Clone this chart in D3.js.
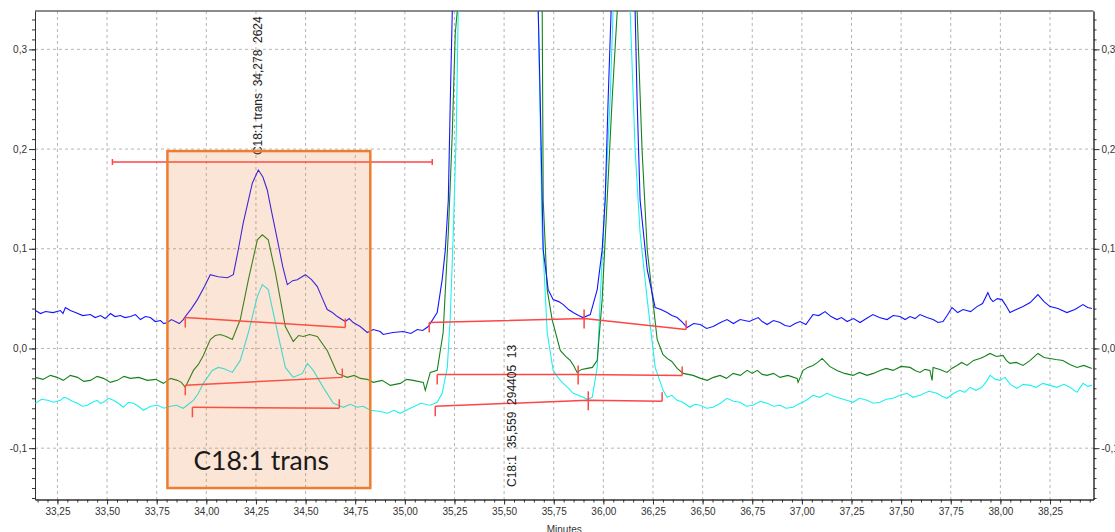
<!DOCTYPE html>
<html>
<head>
<meta charset="utf-8">
<script src="https://cdn.jsdelivr.net/npm/d3@7"></script>
<style>
  body { margin: 0; background: #fff; }
  text { font-family: "Liberation Sans", Arial, sans-serif; }
</style>
</head>
<body>
<div id="chart"></div>
<script>

// --> DATA (minutes, absorbance)

var blueTrace = [
  [33.139,0.038],[33.165,0.035],[33.190,0.037],[33.228,0.036],[33.265,0.038],[33.278,0.035],
  [33.290,0.041],[33.315,0.038],[33.341,0.036],[33.378,0.033],[33.416,0.034],[33.44,0.031],
  [33.467,0.033],[33.49,0.030],[33.517,0.035],[33.54,0.032],[33.567,0.033],[33.59,0.031],
  [33.618,0.032],[33.643,0.034],[33.668,0.029],[33.693,0.032],[33.718,0.031],[33.743,0.027],
  [33.769,0.028],[33.786,0.025],[33.804,0.026],[33.824,0.029],[33.844,0.027],[33.864,0.025],
  [33.884,0.029],[33.894,0.032],[33.925,0.040],[33.955,0.049],[33.99,0.062],
  [34.020,0.074],[34.06,0.072],[34.106,0.071],[34.136,0.074],[34.16,0.098],[34.186,0.126],[34.232,0.166],[34.262,0.179],
  [34.285,0.172],[34.307,0.159],[34.33,0.136],[34.358,0.109],[34.385,0.082],[34.408,0.064],[34.435,0.068],[34.458,0.069],[34.499,0.074],[34.53,0.069],[34.559,0.062],
  [34.585,0.050],[34.609,0.039],[34.635,0.036],[34.660,0.032],[34.700,0.027],[34.720,0.030],[34.740,0.026],[34.775,0.022],[34.811,0.016],[34.84,0.019],[34.876,0.017],
  [34.891,0.014],[34.94,0.016],[34.992,0.017],[35.03,0.015],[35.063,0.019],[35.09,0.018],[35.118,0.022],[35.163,0.036],[35.188,0.069],
  [35.204,0.099],[35.219,0.149],[35.229,0.249],[35.239,0.3385],[35.45,1.5],[35.672,0.3385],
  [35.682,0.249],[35.697,0.099],[35.722,0.059],[35.747,0.049],[35.775,0.047],[35.798,0.044],[35.825,0.039],[35.848,0.036],
  [35.875,0.033],[35.898,0.031],[35.934,0.034],[35.969,0.059],[35.994,0.099],[36.009,0.149],[36.024,0.249],
  [36.039,0.3385],[36.10,1.2],[36.160,0.3385],[36.170,0.249],[36.185,0.149],[36.221,0.079],
  [36.261,0.041],[36.29,0.039],[36.321,0.036],[36.345,0.033],[36.372,0.031],[36.40,0.026],[36.422,0.021],
  [36.455,0.025],[36.488,0.024],[36.52,0.020],[36.553,0.022],[36.59,0.026],[36.623,0.029],[36.655,0.025],
  [36.689,0.029],[36.735,0.027],[36.780,0.031],[36.80,0.027],[36.825,0.024],[36.857,0.028],[36.890,0.026],
  [36.915,0.023],[36.941,0.022],[36.966,0.025],[36.991,0.027],[37.02,0.024],[37.056,0.034],[37.085,0.033],
  [37.117,0.037],[37.147,0.032],[37.177,0.029],[37.20,0.031],[37.228,0.027],[37.26,0.030],[37.293,0.026],
  [37.325,0.030],[37.358,0.034],[37.39,0.031],[37.429,0.029],[37.46,0.033],[37.494,0.032],[37.52,0.029],
  [37.545,0.032],[37.57,0.030],[37.595,0.034],[37.63,0.031],[37.661,0.029],[37.686,0.026],[37.711,0.027],
  [37.735,0.034],[37.756,0.041],[37.785,0.036],[37.812,0.039],[37.85,0.037],[37.882,0.042],[37.91,0.045],
  [37.937,0.056],[37.95,0.050],[37.963,0.047],[37.985,0.050],[38.008,0.049],[38.028,0.043],[38.048,0.036],
  [38.08,0.039],[38.114,0.042],[38.15,0.046],[38.189,0.054],[38.22,0.047],[38.250,0.042],[38.29,0.040],
  [38.335,0.036],[38.375,0.039],[38.416,0.044],[38.44,0.041],[38.461,0.040]
];

var greenTrace = [
  [33.139,-0.029],[33.177,-0.031],[33.215,-0.027],[33.248,-0.029],[33.280,-0.032],[33.315,-0.027],
  [33.351,-0.029],[33.383,-0.033],[33.416,-0.032],[33.45,-0.028],[33.482,-0.030],[33.517,-0.034],
  [33.552,-0.032],[33.585,-0.028],[33.618,-0.030],[33.66,-0.029],[33.703,-0.032],[33.745,-0.031],
  [33.784,-0.035],[33.82,-0.030],[33.854,-0.032],[33.874,-0.034],[33.894,-0.039],
  [33.935,-0.022],[33.96,-0.016],[33.985,-0.007],[34.020,0.009],[34.045,0.013],[34.071,0.014],[34.10,0.012],[34.131,0.009],[34.171,0.029],
  [34.212,0.069],[34.257,0.109],[34.282,0.114],[34.312,0.109],[34.348,0.076],[34.398,0.022],
  [34.438,0.007],[34.465,0.013],[34.489,0.012],[34.52,0.014],[34.559,0.012],[34.609,-0.002],[34.660,-0.025],[34.710,-0.029],
  [34.745,-0.027],[34.776,-0.030],[34.81,-0.031],[34.841,-0.034],[34.885,-0.032],[34.927,-0.037],[34.977,-0.035],[35.01,-0.031],[35.042,-0.032],[35.093,-0.034],
  [35.103,-0.042],[35.128,-0.024],[35.163,-0.022],[35.193,0.016],[35.219,0.116],[35.239,0.216],
  [35.254,0.316],[35.264,0.3385],[35.47,1.5],[35.692,0.3385],[35.697,0.149],[35.717,0.059],
  [35.742,0.029],[35.783,-0.002],[35.81,-0.008],[35.833,-0.012],[35.85,-0.017],[35.868,-0.024],[35.89,-0.021],[35.919,-0.020],[35.945,-0.019],[35.969,-0.012],
  [35.994,0.049],[36.019,0.149],[36.044,0.249],[36.070,0.3385],[36.11,1.2],[36.170,0.3385],
  [36.195,0.199],[36.221,0.099],[36.271,0.009],[36.3,-0.006],[36.321,-0.010],[36.345,-0.013],[36.372,-0.020],[36.402,-0.025],
  [36.452,-0.027],[36.49,-0.030],[36.523,-0.032],[36.555,-0.029],[36.588,-0.027],[36.62,-0.030],[36.654,-0.025],
  [36.69,-0.027],[36.724,-0.022],[36.75,-0.025],[36.775,-0.022],[36.80,-0.026],[36.825,-0.027],[36.857,-0.025],
  [36.890,-0.029],[36.93,-0.027],[36.976,-0.030],[36.981,-0.034],[37.006,-0.022],[37.03,-0.019],[37.056,-0.017],
  [37.08,-0.014],[37.102,-0.010],[37.14,-0.018],[37.177,-0.022],[37.215,-0.025],[37.258,-0.027],[37.29,-0.024],
  [37.328,-0.027],[37.36,-0.025],[37.394,-0.022],[37.425,-0.020],[37.459,-0.022],[37.50,-0.018],[37.545,-0.019],
  [37.57,-0.022],[37.595,-0.024],[37.62,-0.021],[37.645,-0.022],[37.656,-0.032],[37.661,-0.019],[37.695,-0.021],
  [37.731,-0.024],[37.755,-0.020],[37.781,-0.017],[37.805,-0.014],[37.832,-0.017],[37.865,-0.012],[37.897,-0.010],
  [37.92,-0.008],[37.948,-0.005],[37.98,-0.008],[38.013,-0.007],[38.03,-0.012],[38.048,-0.015],[38.08,-0.014],
  [38.114,-0.017],[38.15,-0.012],[38.189,-0.005],[38.22,-0.009],[38.250,-0.010],[38.28,-0.011],[38.315,-0.012],
  [38.35,-0.016],[38.386,-0.019],[38.42,-0.017],[38.461,-0.020]
];

var cyanTrace = [
  [33.139,-0.055],[33.17,-0.051],[33.200,-0.052],[33.232,-0.054],[33.265,-0.052],[33.282,-0.049],
  [33.300,-0.050],[33.325,-0.053],[33.351,-0.055],[33.376,-0.058],[33.401,-0.057],[33.426,-0.054],
  [33.451,-0.052],[33.466,-0.055],[33.482,-0.054],[33.507,-0.050],[33.532,-0.052],[33.557,-0.055],
  [33.582,-0.059],[33.607,-0.054],[33.633,-0.055],[33.658,-0.058],[33.683,-0.062],[33.72,-0.058],
  [33.754,-0.057],[33.787,-0.060],[33.819,-0.058],[33.85,-0.057],[33.884,-0.060],[33.91,-0.056],
  [33.935,-0.052],[33.96,-0.045],[33.985,-0.035],[34.030,-0.022],[34.06,-0.019],
  [34.086,-0.020],[34.131,-0.024],[34.171,-0.012],[34.212,0.016],[34.257,0.052],[34.282,0.064],
  [34.312,0.059],[34.348,0.026],[34.398,-0.019],[34.438,-0.029],[34.484,-0.025],[34.509,-0.015],
  [34.539,-0.022],[34.589,-0.039],[34.640,-0.055],[34.665,-0.057],[34.690,-0.059],[34.725,-0.056],[34.760,-0.059],[34.79,-0.058],[34.826,-0.062],
  [34.87,-0.063],[34.912,-0.065],[34.945,-0.062],[34.977,-0.065],[35.027,-0.060],[35.05,-0.058],[35.078,-0.055],[35.128,-0.057],[35.163,-0.054],
  [35.188,-0.045],[35.214,-0.019],[35.229,0.032],[35.244,0.116],[35.259,0.216],[35.269,0.3385],
  [35.46,1.5],[35.672,0.3385],[35.692,0.116],[35.717,0.016],[35.747,-0.022],[35.775,-0.030],[35.798,-0.035],
  [35.825,-0.040],[35.848,-0.045],[35.875,-0.047],[35.898,-0.049],[35.92,-0.051],[35.944,-0.049],[35.969,-0.019],[35.984,0.049],[36.009,0.149],
  [36.034,0.249],[36.049,0.3385],[36.09,1.0],[36.135,0.3385],[36.160,0.199],[36.185,0.116],
  [36.221,0.049],[36.261,-0.019],[36.301,-0.042],[36.321,-0.049],[36.345,-0.047],[36.372,-0.052],[36.40,-0.054],
  [36.437,-0.059],[36.46,-0.056],[36.488,-0.057],[36.52,-0.060],[36.553,-0.059],[36.59,-0.055],[36.623,-0.050],
  [36.655,-0.053],[36.689,-0.054],[36.72,-0.058],[36.754,-0.057],[36.79,-0.053],[36.825,-0.055],[36.857,-0.058],
  [36.890,-0.057],[36.92,-0.060],[36.956,-0.059],[36.98,-0.056],[37.006,-0.054],[37.03,-0.051],[37.056,-0.047],
  [37.09,-0.049],[37.127,-0.045],[37.16,-0.048],[37.192,-0.050],[37.225,-0.052],[37.258,-0.054],[37.29,-0.050],
  [37.328,-0.052],[37.36,-0.055],[37.394,-0.054],[37.425,-0.051],[37.459,-0.050],[37.495,-0.047],[37.530,-0.045],
  [37.56,-0.049],[37.595,-0.047],[37.64,-0.043],[37.681,-0.045],[37.705,-0.048],[37.731,-0.050],[37.765,-0.045],
  [37.796,-0.042],[37.82,-0.044],[37.847,-0.039],[37.877,-0.042],[37.907,-0.039],[37.93,-0.033],[37.948,-0.027],
  [37.975,-0.031],[37.998,-0.032],[38.023,-0.029],[38.05,-0.036],[38.083,-0.040],[38.115,-0.036],[38.149,-0.037],
  [38.18,-0.039],[38.214,-0.035],[38.25,-0.037],[38.285,-0.039],[38.32,-0.036],[38.350,-0.039],[38.386,-0.044],
  [38.416,-0.035],[38.44,-0.038],[38.461,-0.037]
];

// integration baselines: start, (valley), end
var baselines = [
  [[33.894,0.031],[34.700,0.021]],
  [[33.894,-0.037],[34.685,-0.029]],
  [[33.930,-0.059],[34.670,-0.060]],
  [[35.123,0.026],[35.903,0.030],[36.417,0.019]],
  [[35.163,-0.026],[35.873,-0.026],[36.397,-0.027]],
  [[35.153,-0.058],[35.924,-0.052],[36.296,-0.053]]
];

// red window bar
var windowBar = [33.527, 35.138, 0.187];

// highlight box: t0, t1, top, bottom
var boxRange = [33.804, 34.826, 0.198, -0.140];

var peakLabels = [
  { rt: 34.278, text: "C18:1 trans  34,278  2624", top: true },
  { rt: 35.559, text: "C18:1  35,559  294405  13", top: false }
];

var xTicks = [33.25, 33.50, 33.75, 34.00, 34.25, 34.50, 34.75, 35.00, 35.25, 35.50, 35.75,
              36.00, 36.25, 36.50, 36.75, 37.00, 37.25, 37.50, 37.75, 38.00, 38.25];
var yTicks = [-0.1, 0.0, 0.1, 0.2, 0.3];

var xDomain = [33.137, 38.469];
var yDomain = [-0.1515, 0.3385];

// --> CREATE SVG DRAWING AREA

var width = 1115,
    height = 532;

var margin = { left: 35, right: 21.5, top: 11, bottom: 32.5 };

var plotW = width - margin.left - margin.right,
    plotH = height - margin.top - margin.bottom;

var loc = d3.formatLocale({ decimal: ",", thousands: ".", grouping: [3], currency: ["", ""], minus: "-" });
var fmtX = loc.format(".2f"),
    fmtY = loc.format(".1f");

var svg = d3.select("#chart").append("svg")
    .attr("width", width)
    .attr("height", height);

var g = svg.append("g")
    .attr("transform", "translate(" + margin.left + "," + margin.top + ")");

var x = d3.scaleLinear().domain(xDomain).range([0, plotW]);
var y = d3.scaleLinear().domain(yDomain).range([plotH, 0]);

svg.append("defs").append("clipPath")
    .attr("id", "plotclip")
    .append("rect")
    .attr("width", plotW)
    .attr("height", plotH);

// grid
g.append("g")
    .selectAll("line")
    .data(xTicks)
    .enter()
    .append("line")
    .attr("x1", function (d) { return x(d); })
    .attr("x2", function (d) { return x(d); })
    .attr("y1", 0)
    .attr("y2", plotH)
    .style("stroke", "#b5b5b5")
    .style("stroke-dasharray", "3,3");

g.append("g")
    .selectAll("line")
    .data(yTicks)
    .enter()
    .append("line")
    .attr("x1", 0)
    .attr("x2", plotW)
    .attr("y1", function (d) { return y(d); })
    .attr("y2", function (d) { return y(d); })
    .style("stroke", "#b5b5b5")
    .style("stroke-dasharray", "3,3");

// axes
var xMinor = d3.range(Math.ceil(xDomain[0] * 20), Math.floor(xDomain[1] * 20) + 1).map(function (i) { return i / 20; });
var yMinor = d3.range(Math.ceil(yDomain[0] * 100), Math.floor(yDomain[1] * 100) + 1).map(function (i) { return i / 100; });

function styleAxis(sel) {
    sel.selectAll("path").style("stroke", "#333");
    sel.selectAll("line").style("stroke", "#333");
    sel.selectAll("text").style("fill", "#333").style("font-size", "10px")
        .style("font-family", "'Liberation Sans', Arial, sans-serif");
}

g.append("g").attr("transform", "translate(0," + plotH + ")")
    .call(d3.axisBottom(x).tickValues(xMinor).tickSize(3).tickFormat("").tickSizeOuter(0))
    .call(styleAxis);
g.append("g").attr("transform", "translate(0," + plotH + ")")
    .call(d3.axisBottom(x).tickValues(xTicks).tickSize(5).tickPadding(3).tickFormat(fmtX).tickSizeOuter(0))
    .call(styleAxis);

g.append("g")
    .call(d3.axisLeft(y).tickValues(yMinor).tickSize(3).tickFormat("").tickSizeOuter(0))
    .call(styleAxis);
g.append("g")
    .call(d3.axisLeft(y).tickValues(yTicks).tickSize(6).tickPadding(2).tickFormat(fmtY).tickSizeOuter(0))
    .call(styleAxis);

g.append("g").attr("transform", "translate(" + plotW + ",0)")
    .call(d3.axisRight(y).tickValues(yMinor).tickSize(3).tickFormat("").tickSizeOuter(0))
    .call(styleAxis);
g.append("g").attr("transform", "translate(" + plotW + ",0)")
    .call(d3.axisRight(y).tickValues(yTicks).tickSize(6).tickPadding(2).tickFormat(fmtY).tickSizeOuter(0))
    .call(styleAxis);

g.append("line")
    .attr("x1", 0).attr("x2", plotW)
    .attr("y1", 0).attr("y2", 0)
    .style("stroke", "#666")
    .style("stroke-width", 1.5);

svg.append("text")
    .attr("x", margin.left + plotW / 2)
    .attr("y", height + 1)
    .attr("text-anchor", "middle")
    .style("font-size", "10px")
    .style("fill", "#333")
    .text("Minutes");

// traces
var line = d3.line()
    .x(function (d) { return x(d[0]); })
    .y(function (d) { return y(d[1]); });

var traces = g.append("g").attr("clip-path", "url(#plotclip)");

[[cyanTrace, "#1ef0f0"], [greenTrace, "#13821a"], [blueTrace, "#1414ff"]].forEach(function (s) {
    traces.append("path")
        .datum(s[0])
        .attr("d", line)
        .style("fill", "none")
        .style("stroke", s[1])
        .style("stroke-width", 1.1);
});

// baselines
var red = "#ff4545";
baselines.forEach(function (b) {
    traces.append("path")
        .datum(b)
        .attr("d", line)
        .style("fill", "none")
        .style("stroke", red)
        .style("stroke-width", 1.5);

    b.forEach(function (p, i) {
        var up = i === 0 ? 0 : 9,
            down = i === b.length - 1 ? 0 : 10;
        traces.append("line")
            .attr("x1", x(p[0])).attr("x2", x(p[0]))
            .attr("y1", y(p[1]) - up).attr("y2", y(p[1]) + down)
            .style("stroke", red)
            .style("stroke-width", 1.5);
    });
});

// window bar
traces.append("line")
    .attr("x1", x(windowBar[0])).attr("x2", x(windowBar[1]))
    .attr("y1", y(windowBar[2])).attr("y2", y(windowBar[2]))
    .style("stroke", red).style("stroke-width", 1.5);
[windowBar[0], windowBar[1]].forEach(function (t) {
    traces.append("line")
        .attr("x1", x(t)).attr("x2", x(t))
        .attr("y1", y(windowBar[2]) - 3).attr("y2", y(windowBar[2]) + 3)
        .style("stroke", red).style("stroke-width", 1.5);
});

// peak labels
peakLabels.forEach(function (p) {
    var yy = p.top ? y(0.194) : plotH - 12.5;
    g.append("text")
        .attr("transform", "translate(" + x(p.rt) + "," + yy + ") rotate(-90)")
        .style("font-size", "12px")
        .style("fill", "#222")
        .style("white-space", "pre")
        .text(p.text);
});

// highlight box
g.append("rect")
    .attr("x", x(boxRange[0]))
    .attr("y", y(boxRange[2]))
    .attr("width", x(boxRange[1]) - x(boxRange[0]))
    .attr("height", y(boxRange[3]) - y(boxRange[2]))
    .style("fill", "rgba(237,125,49,0.2)")
    .style("stroke", "#ed7d31")
    .style("stroke-width", 2.5);

g.append("text")
    .attr("x", x(boxRange[0]) + 26)
    .attr("y", y(boxRange[3]) - 18)
    .style("font-family", "Lato, 'Open Sans', sans-serif")
    .style("font-size", "26.5px")
    .style("fill", "#1a1a1a")
    .text("C18:1 trans");

</script>
</body>
</html>
